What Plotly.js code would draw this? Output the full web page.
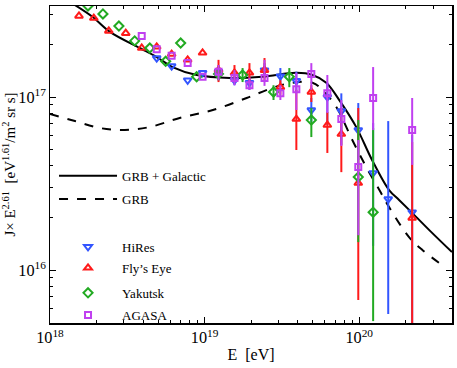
<!DOCTYPE html>
<html><head><meta charset="utf-8">
<script src="https://cdn.plot.ly/plotly-3.0.1.min.js"></script>
<style>html,body{margin:0;padding:0;background:#fff}#chart{width:457px;height:368px}</style>
</head><body><div id="chart"></div>
<script>
// Model curves
const totalE = [1.45e18,1.89e18,2.44e18,3.81e18,4.90e18,6.2e18,8.9e18,1.45e19,2.37e19,3.92e19,4.98e19,6.12e19,7.43e19,9.57e19,1.21e20,1.56e20,1.81e20,2.20e20,2.96e20,3.98e20];
const totalJ = [3.40e17,2.90e17,2.38e17,1.92e17,1.70e17,1.49e17,1.34e17,1.29e17,1.31e17,1.38e17,1.34e17,1.21e17,9.6e16,6.7e16,4.33e16,2.90e16,2.54e16,2.14e16,1.64e16,1.27e16];
const grbE = [1.0e18,1.45e18,2.10e18,3.05e18,4.42e18,6.9e18,1.13e19,1.87e19,2.75e19,3.70e19,4.98e19,5.77e19,7.11e19,9.02e19,1.11e20,1.35e20,1.56e20,2.10e20,2.55e20,3.64e20];
const grbJ = [7.98e16,7.26e16,6.62e16,6.45e16,6.71e16,7.57e16,8.41e16,9.87e16,1.13e17,1.21e17,1.21e17,1.10e17,8.75e16,5.64e16,3.94e16,2.90e16,2.31e16,1.55e16,1.31e16,1.03e16];

// HiRes
const hiresE = [4.9e18,6.12e18,7.77e18,9.7e18,1.23e19,1.56e19,1.95e19,2.44e19,3.09e19,3.92e19,4.9e19,6.22e19,7.66e19,9.86e19,1.23e20,1.54e20,2.20e20];
const hiresJ = [1.68e17,1.51e17,1.25e17,1.38e17,1.40e17,1.25e17,1.21e17,1.43e17,1.32e17,1.24e17,8.41e16,1.00e17,8.30e16,6.44e16,3.64e16,2.57e16,2.16e16];
const hiresHi = [null,null,null,null,1.53e17,1.34e17,1.32e17,1.57e17,1.47e17,1.40e17,9.87e16,1.21e17,1.05e17,9.23e16,7.07e16,7.26e16,6.03e16];
const hiresLo = [null,null,null,null,1.25e17,1.17e17,1.10e17,1.29e17,1.17e17,1.07e17,7.17e16,6.89e16,5.28e16,4.32e16,1.38e16,5.57e15,1e15];

// Fly's Eye
const flyE = [1.54e18,1.92e18,2.40e18,3.09e18,3.92e18,4.9e18,6.12e18,7.77e18,9.7e18,1.23e19,1.56e19,1.95e19,2.44e19,3.09e19,3.92e19,4.9e19,6.22e19,7.66e19,9.86e19,2.20e20];
const flyJ = [2.94e17,2.86e17,2.41e17,2.34e17,1.92e17,1.95e17,1.77e17,1.64e17,1.80e17,1.43e17,1.38e17,1.38e17,1.43e17,1.14e17,7.46e16,1.07e17,6.89e16,6.11e16,3.18e16,2.00e16];
const flyHi = [null,null,null,null,null,null,null,null,null,1.64e17,1.53e17,1.57e17,1.68e17,1.25e17,1.10e17,1.17e17,8.19e16,8.64e16,8.64e16,5.5e16];
const flyLo = [null,null,null,null,null,null,null,null,null,1.22e17,1.22e17,1.22e17,1.25e17,1.03e17,4.94e16,9.36e16,4.75e16,3.68e16,6.71e15,1e15];

// Yakutsk
const yakE = [1.76e18,2.20e18,2.79e18,3.53e18,4.42e18,5.60e18,7.0e18,8.88e18,1.23e19,1.76e19,2.79e19,3.53e19,4.9e19,9.86e19,1.23e20];
const yakJ = [3.36e17,3.02e17,2.57e17,2.11e17,1.92e17,1.61e17,2.05e17,1.31e17,1.36e17,1.34e17,1.07e17,1.31e17,7.36e16,3.45e16,2.16e16];
const yakHi = [null,null,null,null,null,null,null,null,1.49e17,1.47e17,1.17e17,1.47e17,8.64e16,7.36e16,6.62e16];
const yakLo = [null,null,null,null,null,null,null,null,1.25e17,1.22e17,9.61e16,1.14e17,5.87e16,1.45e16,5.07e15];

// AGASA
const agaE = [3.92e18,4.9e18,6.12e18,7.77e18,9.7e18,1.23e19,1.56e19,1.95e19,2.44e19,3.09e19,3.92e19,4.9e19,6.22e19,7.66e19,9.86e19,1.23e20,2.20e20];
const agaJ = [2.25e17,1.89e17,1.73e17,1.57e17,1.31e17,1.40e17,1.29e17,1.17e17,1.29e17,1.05e17,1.11e17,1.36e17,1.05e17,7.46e16,3.94e16,9.87e16,6.44e16];
const agaHi = [null,null,null,null,null,1.53e17,1.43e17,1.29e17,1.64e17,1.17e17,1.38e17,1.57e17,1.34e17,9.61e16,5.64e16,1.49e17,9.87e16];
const agaLo = [null,null,null,null,null,1.25e17,1.17e17,1.10e17,1.16e17,9.61e16,8.41e16,1.10e17,8.09e16,5.21e16,1.59e16,6.44e16,4.05e16];

const FONT = 'Liberation Serif, Times New Roman, serif';

function errs(y, hi, lo) {
  return {
    type: 'data', symmetric: false,
    array: y.map((v, i) => hi[i] == null ? 0 : hi[i] - v),
    arrayminus: y.map((v, i) => lo[i] == null ? 0 : v - lo[i]),
  };
}
function dataTrace(name, x, y, hi, lo, color, symbol, size, legendId) {
  const e = errs(y, hi, lo);
  e.color = color; e.thickness = 2; e.width = 0;
  return {
    type: 'scatter', mode: 'markers', name: name, x: x, y: y,
    legend: legendId,
    marker: {symbol: symbol, size: size, color: color, line: {color: color, width: 2}},
    error_y: e
  };
}

const traces = [
  {type:'scatter', mode:'lines', name:'GRB + Galactic', x: totalE, y: totalJ, legend:'legend',
   line:{color:'#000', width:2, shape:'spline', smoothing:1}},
  {type:'scatter', mode:'lines', name:'GRB', x: grbE, y: grbJ, legend:'legend2',
   line:{color:'#000', width:2, dash:'dash', shape:'spline', smoothing:1}},
  dataTrace('HiRes', hiresE, hiresJ, hiresHi, hiresLo, '#3355ff', 'triangle-down-open', 7, 'legend3'),
  dataTrace("Fly’s Eye", flyE, flyJ, flyHi, flyLo, '#ff1a1a', 'triangle-up-open', 7, 'legend4'),
  dataTrace('Yakutsk', yakE, yakJ, yakHi, yakLo, '#22aa22', 'diamond-open', 7, 'legend5'),
  dataTrace('AGASA', agaE, agaJ, agaHi, agaLo, '#c040f0', 'square-open', 6, 'legend6'),
];

const axisCommon = {
  type: 'log', dtick: 1, exponentformat: 'power',
  ticks: 'inside', ticklen: 6, tickwidth: 1, tickcolor: '#000',
  mirror: 'allticks', showline: true, linecolor: '#000', linewidth: 1.5,
  showgrid: false, zeroline: false,
  minor: {ticks: 'inside', ticklen: 3, tickcolor: '#000', dtick: 'D1', showgrid: false},
  tickfont: {family: FONT, size: 13, color: '#000'},
};

function leg(yc) {
  return {
    x: 0.01, y: yc, xanchor: 'left', yanchor: 'middle',
    bgcolor: 'rgba(0,0,0,0)', borderwidth: 0,
    font: {family: FONT, size: 13, color: '#000'},
    itemwidth: 58
  };
}

const layout = {
  width: 457, height: 368,
  margin: {l: 50, r: 5, t: 6, b: 45},
  paper_bgcolor: '#fff', plot_bgcolor: '#fff',
  font: {family: FONT, color: '#000'},
  showlegend: true,
  legend: leg(0.464), legend2: leg(0.391), legend3: leg(0.240),
  legend4: leg(0.174), legend5: leg(0.095), legend6: leg(0.025),
  xaxis: Object.assign({}, axisCommon, {
    range: [18, 20.6],
    title: {text: 'E  [eV]', font: {family: FONT, size: 16}, standoff: 2}
  }),
  yaxis: Object.assign({}, axisCommon, {
    range: [15.694, 17.526],
    title: {text: 'J× E<sup>2.61</sup>  [eV<sup>1.61</sup>/m<sup>2</sup> sr s]', font: {family: FONT, size: 15}, standoff: 6}
  }),
};

Plotly.newPlot('chart', traces, layout, {staticPlot: true, displayModeBar: false});
</script></body></html>
